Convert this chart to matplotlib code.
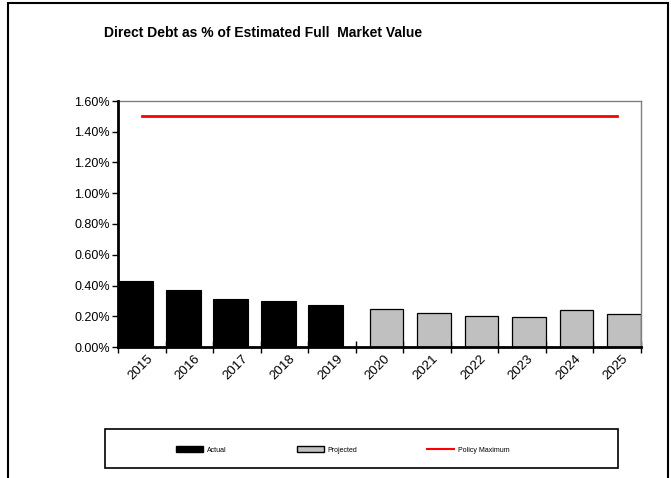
import numpy as np
import matplotlib.pyplot as plt
from matplotlib.patches import Rectangle, Patch
from matplotlib.lines import Line2D
from matplotlib.ticker import FuncFormatter

plt.rcParams['font.family'] = ['Liberation Sans', 'DejaVu Sans']

# %% data (percent of estimated full market value)
years = ['2015', '2016', '2017', '2018', '2019', '2020', '2021', '2022', '2023', '2024', '2025']
actual = [0.43, 0.37, 0.31, 0.30, 0.273, None, None, None, None, None, None]
projected = [None, None, None, None, None, 0.247, 0.219, 0.204, 0.195, 0.239, 0.213]
policy_max = [1.5] * len(years)

# %% figure
W, H = 671, 478
fig = plt.figure(figsize=(W / 100, H / 100), dpi=100)
ax = fig.add_axes([118 / W, (H - 347) / H, (641 - 118) / W, (347 - 101) / H])

x = np.arange(len(years))
xa = [i for i, v in zip(x, actual) if v is not None]
va = [v for v in actual if v is not None]
xp = [i for i, v in zip(x, projected) if v is not None]
vp = [v for v in projected if v is not None]

# overlapped clustered bars, like the spreadsheet
ax.bar(np.array(xa), va, width=0.737, align='edge', color='black', edgecolor='black', linewidth=0.8, zorder=2)
ax.bar(np.array(xp) + 0.29, vp, width=0.71, align='edge', color='#c0c0c0', edgecolor='black', linewidth=0.9, zorder=2)
ax.plot(x + 0.5, policy_max, color='red', linewidth=2, zorder=3)

ax.set_xlim(0, len(years))
ax.set_ylim(0, 1.6)
ax.set_yticks(np.arange(0, 1.61, 0.2))
ax.yaxis.set_major_formatter(FuncFormatter(lambda v, p: '%.2f%%' % v))
ax.set_xticks(np.arange(0, len(years) + 1))
ax.set_xticklabels([])
ax.set_xticks(x + 0.6, minor=True)
ax.set_xticklabels(years, minor=True, rotation=45, ha='right', rotation_mode='anchor', fontsize=9.5)
ax.tick_params(axis='x', which='major', direction='inout', length=8, width=1)
ax.tick_params(axis='x', which='minor', length=0, pad=4)
ax.tick_params(axis='y', direction='out', length=4, width=1, labelsize=9, pad=2)

for s in ['top', 'right']:
    ax.spines[s].set_color('#808080')
    ax.spines[s].set_linewidth(1)
for s in ['left', 'bottom']:
    ax.spines[s].set_color('black')
    ax.spines[s].set_linewidth(2)
    ax.spines[s].set_zorder(4)

fig.text(104 / W, 1 - 33 / H, 'Direct Debt as % of Estimated Full  Market Value',
         fontsize=10, fontweight='bold', va='center', ha='left')

# legend box
fig.patches.append(Rectangle((105 / W, (H - 468) / H), 513 / W, 39 / H, transform=fig.transFigure,
                             facecolor='none', edgecolor='black', linewidth=1.2))
handles = [Patch(facecolor='black', edgecolor='black'),
           Patch(facecolor='#c0c0c0', edgecolor='black'),
           Line2D([0], [0], color='red', linewidth=1.5)]
fig.legend(handles, ['Actual', 'Projected', 'Policy Maximum'], loc='center',
           bbox_to_anchor=(343 / W, 1 - 450 / H), ncol=3, frameon=False, fontsize=5,
           handlelength=3.9, handleheight=0.9, handletextpad=0.6, columnspacing=10)

# outer chart border
fig.patches.append(Rectangle((8 / W, -0.01), 660 / W, 1.0 - 3 / H + 0.01, transform=fig.transFigure,
                             facecolor='none', edgecolor='black', linewidth=1.5))

fig.savefig('out.png', dpi=100)
